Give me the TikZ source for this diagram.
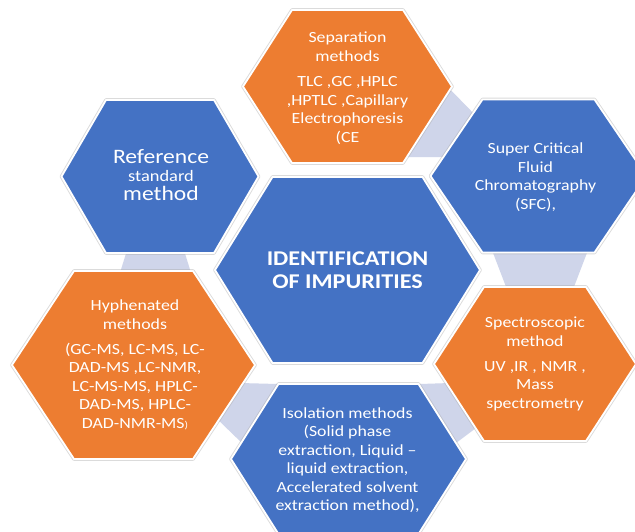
\documentclass[tikz,border=0pt]{standalone}
\usepackage{fontspec}
\setmainfont{Carlito}[FakeStretch=1.15]
\definecolor{hexblue}{HTML}{4472C4}
\definecolor{hexorange}{HTML}{ED7D31}
\definecolor{linkfill}{HTML}{CFD5EA}

\tikzset{
  hexrim/.style={draw=black!35, line width=3.6pt, line join=round, opacity=0.4},
  hexface/.style={draw=white, line width=1.8pt, line join=round},
  linkband/.style={fill=linkfill, draw=none},
  hextext/.style={text=white, align=center, inner sep=0pt,
    font=\fontsize{15.5}{18.5}\selectfont},
  hextitle/.style={hextext, font=\bfseries\fontsize{21}{23.5}\selectfont},
}

% #1 name, #2 cx, #3 cy, #4 half-width to the side points,
% #5 half-length of top/bottom edges, #6 half-height, #7 fill colour
\newcommand\hexcell[7]{%
  \begin{scope}[shift={(#2,#3)}]
    \coordinate (#1) at (0,0);
    \coordinate (#1-r)  at (#4,0);
    \coordinate (#1-br) at (#5,#6);
    \coordinate (#1-bl) at (-#5,#6);
    \coordinate (#1-l)  at (-#4,0);
    \coordinate (#1-tl) at (-#5,-#6);
    \coordinate (#1-tr) at (#5,-#6);
  \end{scope}
  \path[hexrim] (#1-r) -- (#1-br) -- (#1-bl) -- (#1-l) -- (#1-tl) -- (#1-tr) -- cycle;
  \path[hexface, fill=#7] (#1-r) -- (#1-br) -- (#1-bl) -- (#1-l) -- (#1-tl) -- (#1-tr) -- cycle;
}

\begin{document}
\begin{tikzpicture}[x=1pt, y=-1pt]
  \useasboundingbox (0,0) rectangle (635,531);
  \fill[white] (0,0) rectangle (635,531);
  \clip (0,0) rectangle (635,531);

  % pale bands joining neighbouring cells (drawn underneath)
  \fill[linkband] (440,79) -- (481,121) -- (445,157) -- (395,157) -- cycle;
  \fill[linkband] (490,245) -- (590,245) -- (572,292) -- (508,292) -- cycle;
  \fill[linkband] (420,384) -- (450,383) -- (480,425) -- (452,446) -- cycle;
  \fill[linkband] (240,383) -- (278,384) -- (244,445) -- (212,414) -- cycle;
  \fill[linkband] (128,247) -- (183,247) -- (192,276) -- (119,276) -- cycle;

  % cells
  \hexcell{sep}{347.5}{86.5}{104.5}{55.5}{76.5}{hexorange}
  \hexcell{ref}{160}{176.5}{98.5}{54}{76.5}{hexblue}
  \hexcell{sfc}{538.5}{176}{108}{56}{76.5}{hexblue}
  \hexcell{spec}{535}{364}{101}{51}{77}{hexorange}
  \hexcell{hyph}{133.5}{365}{121.5}{59.5}{94}{hexorange}
  \hexcell{iso}{348.5}{459}{117.5}{70}{75}{hexblue}
  \hexcell{core}{347.5}{270}{132.5}{75}{93}{hexblue}

  % texts
  \node[hextitle] (core-label) at (347.5,270) {IDENTIFICATION\\OF IMPURITIES};
  \node[hextext] (sep-label) at (347.5,88)
    {Separation\\methods\\[7pt]TLC ,GC ,HPLC\\,HPTLC ,Capillary\\Electrophoresis\\(CE};
  \node[hextext] (ref-label) at (161,175)
    {\fontsize{20.5}{22}\selectfont Reference\\
     \fontsize{16}{22}\selectfont standard\\
     \fontsize{20.5}{21}\selectfont method};
  \node[hextext] (sfc-label) at (535.5,177)
    {Super Critical\\Fluid\\Chromatography\\(SFC),};
  \node[hextext] (spec-label) at (535,364)
    {Spectroscopic\\method\\[6.5pt]UV ,IR , NMR ,\\Mass\\spectrometry};
  \node[hextext] (hyph-label) at (135,365)
    {Hyphenated\\methods\\[6.5pt](GC-MS, LC-MS, LC-\\DAD-MS ,LC-NMR,\\LC-MS-MS, HPLC-\\DAD-MS, HPLC-\\DAD-NMR-MS{\fontsize{10}{10}\selectfont)}};
  \node[hextext] (iso-label) at (347.5,460)
    {Isolation methods\\(Solid phase\\extraction, Liquid –\\liquid extraction,\\Accelerated solvent\\extraction method),};
\end{tikzpicture}
\end{document}
